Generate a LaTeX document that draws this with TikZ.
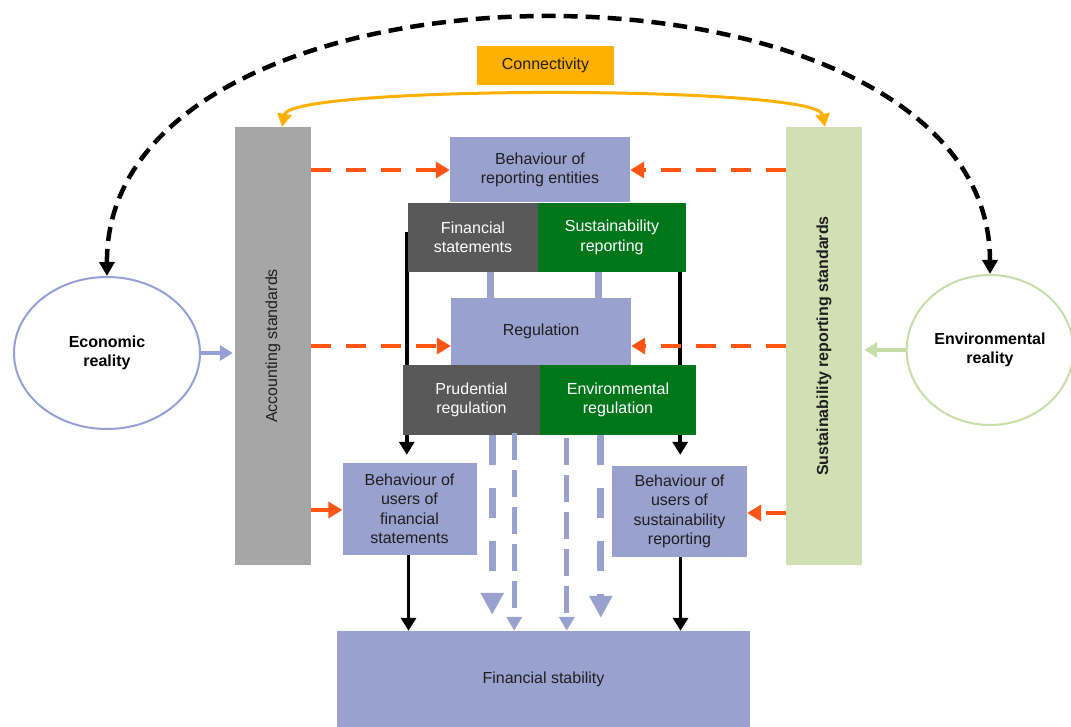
\documentclass[tikz,border=0pt]{standalone}
\usepackage{fontspec}
\setmainfont{Liberation Sans}
\usetikzlibrary{arrows.meta}
\usetikzlibrary{shapes.geometric}
\usetikzlibrary{backgrounds}

\definecolor{lav}{RGB}{153,161,207}
\definecolor{darkgrey}{RGB}{89,89,89}
\definecolor{darkgreen}{RGB}{0,118,26}
\definecolor{palegreen}{RGB}{209,224,178}
\definecolor{midgrey}{RGB}{166,166,166}
\definecolor{gold}{RGB}{255,176,0}
\definecolor{redorange}{RGB}{255,85,20}
\definecolor{ecoline}{RGB}{150,160,215}
\definecolor{envline}{RGB}{198,222,168}

\tikzset{
  txt/.style={font=\fontsize{16}{19.5}\selectfont, align=center},
  box/.style={txt, inner sep=0pt, text=black!88},
  lavbox/.style={box, fill=lav},
  greybox/.style={box, fill=darkgrey, text=white},
  greenbox/.style={box, fill=darkgreen, text=white},
  orangedash/.style={redorange, line width=3.5pt, dash pattern=on 20pt off 15pt,
    -{Triangle[length=14pt,width=16pt]}},
  blackarrow/.style={black, line width=3.5pt, -{Triangle[length=13pt,width=15pt]}},
  lavwide/.style={lav, line width=7pt, dash pattern=on 30pt off 23pt,
    -{Triangle[length=22pt,width=22pt]}},
  lavthin/.style={lav, line width=5pt, dash pattern=on 27pt off 10pt,
    -{Triangle[length=14pt,width=15pt]}}
}

\begin{document}
\begin{tikzpicture}[x=1pt, y=-1pt]
\useasboundingbox (0,0) rectangle (1071,727);

% outer nodes
\node[ellipse, draw=ecoline, line width=2pt, fill=white, minimum width=186pt, minimum height=152pt,
  txt, font=\fontsize{16}{19.5}\selectfont\bfseries] (eco) at (107,353) {Economic\\reality};
\node[ellipse, draw=envline, line width=2pt, fill=white, minimum width=160pt, minimum height=150pt,
  txt, font=\fontsize{16}{19.5}\selectfont\bfseries] (env) at (990,350) {Environmental\\reality};
\node[box, fill=midgrey, minimum width=76pt, minimum height=438pt] (acc) at (273,346) {};
\node[box, rotate=90] at (acc) {Accounting standards};
\node[box, fill=palegreen, minimum width=76pt, minimum height=438pt] (sus) at (824,346) {};
\node[box, rotate=90, font=\fontsize{16}{19.5}\selectfont\bfseries] at (sus) {Sustainability reporting standards};
\node[box, fill=gold, minimum width=137pt, minimum height=39pt] (conn) at (545.5,65.5) {Connectivity};

% centre column
\node[lavbox, minimum width=180pt, minimum height=65pt] (beh) at (540,170) {Behaviour of\\reporting entities};
\node[greybox, minimum width=130pt, minimum height=69pt] (fs) at (473,237.5) {Financial\\statements};
\node[greenbox, minimum width=148pt, minimum height=69pt] (sr) at (612,237.5) {Sustainability\\reporting};
\node[lavbox, minimum width=180pt, minimum height=67pt] (reg) at (541,331.5) {Regulation};
\node[greybox, minimum width=137pt, minimum height=70pt] (pru) at (471.5,400) {Prudential\\regulation};
\node[greenbox, minimum width=156pt, minimum height=70pt] (envreg) at (618,400) {Environmental\\regulation};
\node[lavbox, minimum width=134pt, minimum height=92pt] (ufin) at (409.5,509) {Behaviour of\\users of\\financial\\statements};
\node[lavbox, minimum width=135pt, minimum height=91pt] (usus) at (679.5,511.5) {Behaviour of\\users of\\sustainability\\reporting};
\node[lavbox, minimum width=413pt, minimum height=96pt] (stab) at (543.5,679) {Financial stability};

% arcs
\draw[black, line width=4.5pt, dash pattern=on 14pt off 8pt,
  {Triangle[length=14pt,width=15pt]}-{Triangle[length=14pt,width=15pt]}]
  (eco.north) .. controls (105,-66) and (990,-66) .. (env.north);
\draw[gold, line width=3pt, {Triangle[length=13pt,width=14pt]}-{Triangle[length=13pt,width=14pt]}]
  ([xshift=9pt]acc.north) .. controls (290,85) and (817,85) .. ([xshift=1pt]sus.north);

\draw[ecoline, line width=4pt, -{Triangle[length=13pt,width=15pt]}] (eco.east) -- ([xshift=-2pt]acc.west |- eco.east);
\draw[envline, line width=4pt, -{Triangle[length=13pt,width=15pt]}] (env.west) -- ([xshift=2pt]sus.east |- env.west);

% links into the centre column
\draw[orangedash] (acc.east |- beh.west) -- (beh.west);
\draw[orangedash] (sus.west |- beh.east) -- (beh.east);
\draw[orangedash] (acc.east |- 0,346) -- (reg.west |- 0,346);
\draw[orangedash] (sus.west |- 0,346) -- (reg.east |- 0,346);
\draw[orangedash] (acc.east |- 0,510) -- (ufin.west |- 0,510);
\draw[orangedash] (sus.west |- 0,513) -- (usus.east |- 0,513);

\draw[lav, line width=7pt] (fs.south -| 490,0) -- (reg.north -| 490,0);
\draw[lav, line width=7pt] (sr.south -| 598,0) -- (reg.north -| 598,0);

\begin{scope}[on background layer]
\draw[blackarrow, shorten >=8pt] ([xshift=-1pt,yshift=5pt]fs.west) -- ([xshift=-1pt]fs.west |- ufin.north);
\draw[blackarrow, shorten >=11pt] ([xshift=-6pt,yshift=5pt]sr.east) -- ([xshift=-6pt]sr.east |- usus.north);
\end{scope}
\draw[blackarrow] ([xshift=-1pt]ufin.south) -- ([xshift=-1pt]ufin.south |- stab.north);
\draw[blackarrow] ([xshift=1pt]usus.south) -- ([xshift=1pt]usus.south |- stab.north);

\draw[lavwide, shorten >=16pt] ([xshift=-48pt]pru.south east) -- ([xshift=-48pt]pru.south east |- stab.north);
\draw[lavthin] ([xshift=-26pt,yshift=2pt]pru.south east) -- ([xshift=-26pt]pru.south east |- stab.north);
\draw[lavthin] ([xshift=27pt,yshift=-3pt]envreg.south west) -- ([xshift=27pt]envreg.south west |- stab.north);
\draw[lavwide, shorten >=13pt] ([xshift=61pt]envreg.south west) -- ([xshift=61pt]envreg.south west |- stab.north);
\end{tikzpicture}
\end{document}
